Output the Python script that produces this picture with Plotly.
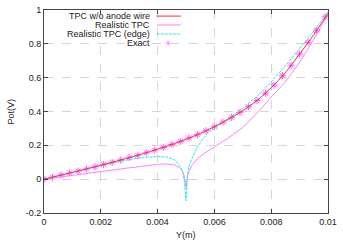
import plotly.graph_objects as go

# TPC w/o anode wire (red)
y_nowire = [0, 0.0005, 0.001, 0.0015, 0.002, 0.0025, 0.003, 0.0035, 0.004, 0.0045,
            0.005, 0.0055, 0.006, 0.0065, 0.007, 0.0075, 0.008, 0.0085, 0.009, 0.0095, 0.01]
v_nowire = [0, 0.02, 0.04, 0.061, 0.082, 0.104, 0.127, 0.151, 0.177, 0.205,
            0.236, 0.27, 0.31, 0.355, 0.405, 0.465, 0.54, 0.63, 0.74, 0.855, 0.98]

# Realistic TPC (pink)
y_real = [0, 0.0005, 0.001, 0.0015, 0.002, 0.0025, 0.003, 0.0035, 0.004, 0.0043,
          0.0046, 0.0048, 0.0049, 0.00495, 0.005, 0.00505, 0.0051, 0.0052, 0.0054, 0.0056,
          0.006, 0.0065, 0.007, 0.0075, 0.008, 0.0085, 0.009, 0.0095, 0.01]
v_real = [0, 0.012, 0.024, 0.035, 0.045, 0.056, 0.067, 0.078, 0.087, 0.09,
          0.084, 0.065, 0.04, 0.01, -0.05, 0.015, 0.045, 0.08, 0.12, 0.147,
          0.19, 0.245, 0.305, 0.39, 0.485, 0.575, 0.69, 0.825, 0.975]

# Realistic TPC (edge) (cyan)
y_edge = [0, 0.0005, 0.001, 0.0015, 0.002, 0.0025, 0.003, 0.0035, 0.004, 0.0043,
          0.0046, 0.0048, 0.0049, 0.00495, 0.005, 0.00505, 0.0051, 0.0052, 0.0054, 0.0056,
          0.0058, 0.006, 0.0065, 0.007, 0.0075, 0.008, 0.0085, 0.009, 0.0095, 0.01]
v_edge = [0, 0.02, 0.04, 0.061, 0.081, 0.1, 0.116, 0.128, 0.134, 0.132,
          0.115, 0.075, 0.03, -0.02, -0.128, 0.02, 0.07, 0.12, 0.19, 0.24,
          0.28, 0.30, 0.36, 0.42, 0.49, 0.575, 0.67, 0.775, 0.875, 0.99]

# Exact (stars)
y_exact = [0, 0.0003, 0.0006, 0.0009, 0.0012, 0.0015, 0.0018, 0.0021, 0.0024, 0.0027,
           0.003, 0.0033, 0.0036, 0.0039, 0.0042, 0.0045, 0.0048, 0.0051, 0.0054, 0.0057,
           0.006, 0.0063, 0.0066, 0.0069, 0.0072, 0.0075, 0.0078, 0.0081, 0.0084, 0.0087,
           0.009, 0.0093, 0.0096, 0.0099]
v_exact = [0, 0.012, 0.024, 0.036, 0.048, 0.061, 0.073, 0.086, 0.099, 0.113,
           0.127, 0.141, 0.156, 0.172, 0.188, 0.205, 0.223, 0.243, 0.263, 0.286,
           0.31, 0.337, 0.365, 0.395, 0.428, 0.465, 0.508, 0.556, 0.612, 0.673,
           0.74, 0.808, 0.88, 0.96]

x_ticks = [0, 0.002, 0.004, 0.006, 0.008, 0.01]
x_ticktext = ["0", "0.002", "0.004", "0.006", "0.008", "0.01"]
y_ticks = [-0.2, 0, 0.2, 0.4, 0.6, 0.8, 1]
y_ticktext = ["-0.2", "0", "0.2", "0.4", "0.6", "0.8", "1"]

legend_names = ["TPC w/o anode wire", "Realistic TPC", "Realistic TPC (edge)", "Exact"]

RED = "#ff2a2a"
PINK = "#ff80ff"
CYAN = "#30e8f0"
MAG = "#ff5cff"
FONT = "Liberation Sans, Arial, sans-serif"

fig = go.Figure()

fig.add_trace(go.Scatter(x=y_exact, y=v_exact, mode="markers", name=legend_names[3],
                         marker=dict(symbol="asterisk-open", size=6, color=MAG,
                                     line=dict(color=MAG, width=1))))
fig.add_trace(go.Scatter(x=y_real, y=v_real, mode="lines", name=legend_names[1],
                         line=dict(color=PINK, width=1)))
fig.add_trace(go.Scatter(x=y_edge, y=v_edge, mode="lines", name=legend_names[2],
                         line=dict(color=CYAN, width=1, dash="3px,1px")))
fig.add_trace(go.Scatter(x=y_nowire, y=v_nowire, mode="lines", name=legend_names[0],
                         line=dict(color=RED, width=1, shape="spline", smoothing=0.6)))

# gnuplot-style key: text right aligned, sample on the right
rows = [0.970, 0.926, 0.882, 0.837]
for name, ry in zip(legend_names, rows):
    fig.add_annotation(x=0.381, y=ry, xref="paper", yref="paper", text=name,
                       showarrow=False, xanchor="right", yanchor="middle",
                       font=dict(family=FONT, size=9, color="#222"))
for ry, col, dash in zip(rows[:3], [RED, PINK, CYAN], ["solid", "solid", "3px,1px"]):
    fig.add_shape(type="line", xref="paper", yref="paper", x0=0.397, x1=0.482,
                  y0=ry, y1=ry, line=dict(color=col, width=1, dash=dash))
fig.add_annotation(x=0.44, y=rows[3], xref="paper", yref="paper", text="✳",
                   showarrow=False, xanchor="center", yanchor="middle",
                   font=dict(family="DejaVu Sans", size=8, color=MAG))

# axis titles
fig.add_annotation(x=0.5, y=0, xref="paper", yref="paper", text="Y(m)", showarrow=False,
                   xanchor="center", yanchor="top", yshift=-15,
                   font=dict(family=FONT, size=9, color="#222"))
fig.add_annotation(x=0, y=0.5, xref="paper", yref="paper", text="Pot(V)", showarrow=False,
                   xanchor="center", yanchor="middle", xshift=-34, textangle=-90,
                   font=dict(family=FONT, size=9, color="#222"))

axis_common = dict(showline=True, linecolor="#444", linewidth=1, mirror="allticks",
                   ticks="inside", ticklen=4, tickcolor="#444", tickwidth=1,
                   showgrid=True, gridcolor="#d6d6d6", griddash="dash", gridwidth=1,
                   zeroline=False, automargin=False,
                   tickfont=dict(family=FONT, size=9, color="#222"))

fig.update_xaxes(range=[0, 0.01], tickvals=x_ticks, ticktext=x_ticktext, **axis_common)
fig.update_yaxes(range=[-0.2, 1], tickvals=y_ticks, ticktext=y_ticktext, **axis_common)

fig.update_layout(width=343, height=240, margin=dict(l=44, r=15, t=10, b=27),
                  paper_bgcolor="white", plot_bgcolor="white", showlegend=False)

# drop the browser's default body margin so the figure sits at the page corner
fig.write_html("out.html", config={"displayModeBar": False},
               post_script="document.body.style.margin='0';")
